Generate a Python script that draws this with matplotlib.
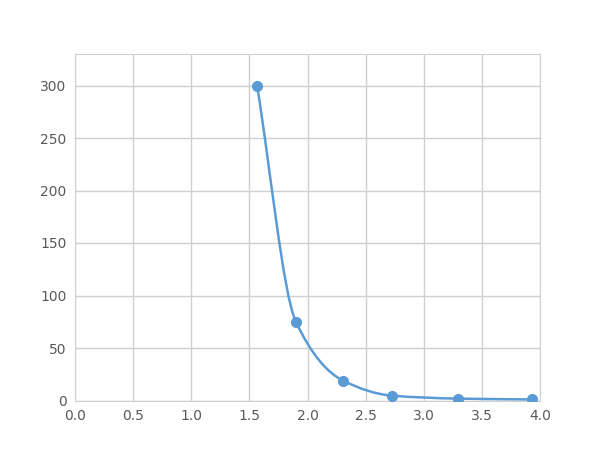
import matplotlib.pyplot as plt
import numpy as np
from matplotlib.path import Path
from matplotlib.patches import PathPatch

x = [1.566, 1.90, 2.305, 2.727, 3.295, 3.93]
y = [300, 75, 19, 4.6, 1.8, 1.0]

blue = '#5B9BD5'
grey = '#D0D0D0'

fig = plt.figure(figsize=(6, 4.5), dpi=100)
ax = fig.add_axes([0.125, 0.11, 0.775, 0.77])

# smooth line: monotone cubic hermite tangents drawn as bezier segments
xs = np.array(x, dtype=float)
ys = np.array(y, dtype=float)
h = np.diff(xs)
d = np.diff(ys) / h
m = np.zeros_like(xs)
for k in range(1, len(xs) - 1):
    if d[k - 1] * d[k] > 0:
        w1 = 2 * h[k] + h[k - 1]
        w2 = h[k] + 2 * h[k - 1]
        m[k] = (w1 + w2) / (w1 / d[k - 1] + w2 / d[k])
m[0] = d[0]
m[-1] = d[-1]
verts = [(xs[0], ys[0])]
codes = [Path.MOVETO]
for k in range(len(xs) - 1):
    verts += [(xs[k] + h[k] / 3, ys[k] + m[k] * h[k] / 3),
              (xs[k + 1] - h[k] / 3, ys[k + 1] - m[k + 1] * h[k] / 3),
              (xs[k + 1], ys[k + 1])]
    codes += [Path.CURVE4] * 3
ax.add_patch(PathPatch(Path(verts, codes), fill=False, edgecolor=blue, lw=1.8, zorder=3))
ax.plot(x, y, 'o', color=blue, ms=7, zorder=4)

ax.set_xlim(0, 4)
ax.set_ylim(0, 330)
ax.set_xticks(np.arange(0, 4.01, 0.5))
ax.set_yticks(np.arange(0, 301, 50))
ax.set_xticklabels(['0.0', '0.5', '1.0', '1.5', '2.0', '2.5', '3.0', '3.5', '4.0'])
ax.grid(True, color=grey, lw=1)
ax.set_axisbelow(True)
for s in ax.spines.values():
    s.set_color(grey)
ax.tick_params(length=0, colors='#595959', labelsize=10, pad=6)

plt.savefig('out.png')
